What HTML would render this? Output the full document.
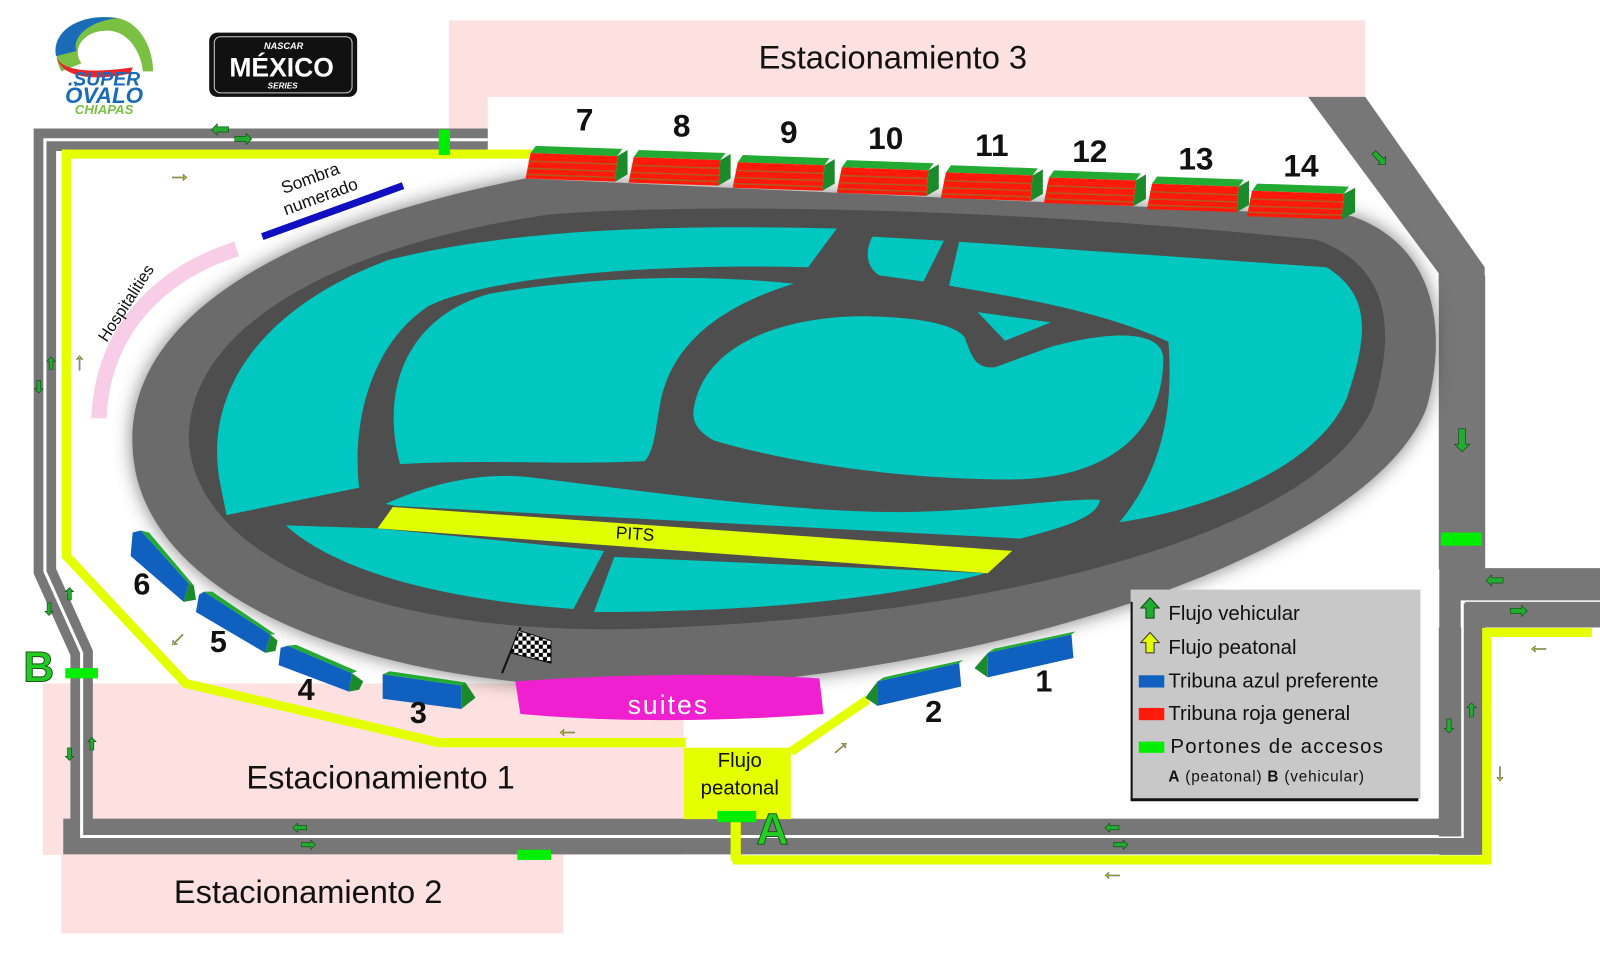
<!DOCTYPE html>
<html><head><meta charset="utf-8"><style>
html,body{margin:0;padding:0;background:#fff;}
svg{display:block;}
text{font-family:"Liberation Sans",sans-serif;}
</style></head><body>
<svg width="1600" height="965" viewBox="0 0 1568 946" preserveAspectRatio="none" xmlns="http://www.w3.org/2000/svg">
<defs>
<filter id="blur" x="-10%" y="-10%" width="120%" height="120%"><feGaussianBlur stdDeviation="9"/></filter>
<pattern id="chk" width="8" height="8" patternUnits="userSpaceOnUse"><rect width="8" height="8" fill="#fff"/><rect width="4" height="4" fill="#000"/><rect x="4" y="4" width="4" height="4" fill="#000"/></pattern>
</defs>
<rect width="1568" height="946" fill="#fff"/>
<!-- parking areas -->
<rect x="440" y="20" width="898" height="75" fill="#fde0e0"/>
<rect x="440" y="20" width="38" height="110" fill="#fde0e0"/>
<rect x="42" y="670" width="628" height="168" fill="#fde0e0"/>
<rect x="60" y="838" width="492" height="77" fill="#fde0e0"/>
<text x="875" y="67" font-size="32" text-anchor="middle" fill="#111">Estacionamiento 3</text>
<text x="373" y="773" font-size="32" text-anchor="middle" fill="#111">Estacionamiento 1</text>
<text x="302" y="885" font-size="32" text-anchor="middle" fill="#111">Estacionamiento 2</text>

<!-- roads -->
<g fill="none" stroke="#777" stroke-linejoin="miter">
<path d="M478,137 L44,137 L44,560 L80,640 L80,805" stroke-width="22"/>
<path d="M62,820 L1433,820" stroke-width="35"/>
<path d="M1433,838 L1433,270" stroke-width="45"/>
<path d="M1433,586 L1568,586" stroke-width="58"/>
</g>
<polygon points="1282,95 1338,95 1455,262 1455,280 1410,280 1410,268" fill="#777"/>
<g fill="none" stroke="#fff" stroke-width="3">
<path d="M478,137 L44,137 L44,560 L80,640 L80,820 L1433,820 L1433,590 L1568,590"/>
</g>
<rect x="1410" y="270" width="45" height="288" fill="#777"/>
<rect x="1410" y="615" width="22" height="205" fill="#777"/>
<rect x="1436" y="590" width="132" height="25" fill="#777"/>
<!-- yellow pedestrian paths -->
<g fill="none" stroke="#e4ff00" stroke-width="9">
<path d="M522,151 L65,151 L65,545 L182,670 L430,728 L672,728"/>
<path d="M775,737 L850,686"/>
<path d="M718,843 L1457,843 L1457,620 L1560,620"/>
</g>
<rect x="670" y="733" width="105" height="70" fill="#e4ff00"/>
<text x="725" y="752" font-size="20" text-anchor="middle" fill="#111">Flujo</text>
<text x="725" y="779" font-size="20" text-anchor="middle" fill="#111">peatonal</text>
<!-- gates -->
<g fill="#00ee00">
<rect x="430" y="127" width="11" height="25"/>
<rect x="1412" y="522" width="40" height="13"/>
<rect x="64" y="655" width="32" height="10"/>
<rect x="507" y="833" width="33" height="10"/>
<rect x="703" y="795" width="38" height="11"/>
</g>
<rect x="716" y="806" width="10" height="38" fill="#e4ff00"/>
<text x="757" y="828" font-size="44" font-weight="bold" text-anchor="middle" fill="#22cc22" stroke="#1a5a1a" stroke-width="1">A</text>
<text x="38" y="668" font-size="42" font-weight="bold" text-anchor="middle" fill="#22cc22" stroke="#1a5a1a" stroke-width="1">B</text>

<!-- track -->
<path d="M130,440 C122,320 260,225 515,175 L1325,212 C1405,240 1420,320 1398,400 C1350,525 1050,642 700,672 C400,690 138,600 130,440 Z" fill="#444" filter="url(#blur)" opacity="0.7"/>
<path d="M130,440 C122,320 260,225 515,175 L1325,212 C1405,240 1420,320 1398,400 C1350,525 1050,642 700,672 C400,690 138,600 130,440 Z" fill="#6b6b6b"/>
<path d="M185,430 C185,320 330,240 540,210 C700,198 1000,205 1290,235 C1360,260 1370,320 1345,400 C1290,520 1000,600 660,615 C380,630 190,550 185,430 Z" fill="#4e4e4e"/>
<g fill="#00c8c0">
<path d="M215,470 C200,380 260,300 380,255 C500,225 650,220 820,224 L792,262 C650,258 480,270 420,300 C360,340 345,420 352,478 L222,505 Z"/>
<path d="M940,237 L1300,262 C1345,290 1340,330 1320,390 C1290,460 1180,500 1097,512 C1140,460 1150,400 1145,335 C1080,305 1000,292 930,280 Z"/>
<path d="M855,232 L925,236 L905,276 L862,270 C848,262 848,245 855,232 Z"/>
<path d="M392,455 C372,380 400,310 480,288 C570,272 680,268 778,278 C700,302 660,340 648,390 C642,420 642,440 632,452 C560,456 470,450 392,455 Z"/>
<path d="M680,400 C690,340 760,312 840,310 C900,310 935,318 945,330 C952,348 955,362 975,360 L1030,340 C1085,325 1140,322 1140,352 C1140,420 1090,470 990,470 C870,470 760,450 700,432 C682,422 678,412 680,400 Z"/>
<path d="M958,306 L1030,316 L985,334 Z"/>
<path d="M378,494 C430,470 480,463 520,468 C650,484 780,502 880,502 C960,502 1040,488 1078,490 C1075,506 1050,515 1000,528 L388,496 Z"/>
<path d="M280,515 L370,518 L592,540 L562,597 C430,587 330,560 280,515 Z"/>
<path d="M602,546 L966,562 C880,585 750,600 582,600 Z"/>
</g>
<path d="M385,497 L992,540 L968,562 L370,518 Z" fill="#e0ff00"/>
<text x="622" y="529" font-size="17" text-anchor="middle" fill="#111" transform="rotate(4 622 529)">PITS</text>

<!-- checkered flag -->
<line x1="492" y1="660" x2="510" y2="615" stroke="#111" stroke-width="2"/>
<path d="M508,618 L540,628 L540,650 L500,640 Z" fill="url(#chk)" stroke="#111" stroke-width="1"/>

<!-- suites -->
<path d="M505,668 C620,660 720,660 803,665 L807,700 C700,708 600,708 510,700 Z" fill="#f020d0"/>
<text x="655" y="700" font-size="26" text-anchor="middle" fill="#fff" letter-spacing="2">suites</text>

<!-- red stands -->
<g id="stands">
<g transform="translate(515,143)"><polygon points="10,0 95,3 90,10 5,7" fill="#22aa33"/><polygon points="5,7 90,10 88,35 0,32" fill="#ff1a0a"/><polygon points="90,10 100,4 100,28 88,35" fill="#1a8a2a"/><g stroke="#b05a20" stroke-width="1.5"><line x1="3" y1="15" x2="89" y2="18"/><line x1="2" y1="22" x2="89" y2="25"/><line x1="1" y1="28" x2="88" y2="31"/></g></g>
<g transform="translate(616,147)"><polygon points="10,0 95,3 90,10 5,7" fill="#22aa33"/><polygon points="5,7 90,10 88,35 0,32" fill="#ff1a0a"/><polygon points="90,10 100,4 100,28 88,35" fill="#1a8a2a"/><g stroke="#b05a20" stroke-width="1.5"><line x1="3" y1="15" x2="89" y2="18"/><line x1="2" y1="22" x2="89" y2="25"/><line x1="1" y1="28" x2="88" y2="31"/></g></g>
<g transform="translate(718,152)"><polygon points="10,0 95,3 90,10 5,7" fill="#22aa33"/><polygon points="5,7 90,10 88,35 0,32" fill="#ff1a0a"/><polygon points="90,10 100,4 100,28 88,35" fill="#1a8a2a"/><g stroke="#b05a20" stroke-width="1.5"><line x1="3" y1="15" x2="89" y2="18"/><line x1="2" y1="22" x2="89" y2="25"/><line x1="1" y1="28" x2="88" y2="31"/></g></g>
<g transform="translate(820,157)"><polygon points="10,0 95,3 90,10 5,7" fill="#22aa33"/><polygon points="5,7 90,10 88,35 0,32" fill="#ff1a0a"/><polygon points="90,10 100,4 100,28 88,35" fill="#1a8a2a"/><g stroke="#b05a20" stroke-width="1.5"><line x1="3" y1="15" x2="89" y2="18"/><line x1="2" y1="22" x2="89" y2="25"/><line x1="1" y1="28" x2="88" y2="31"/></g></g>
<g transform="translate(922,162)"><polygon points="10,0 95,3 90,10 5,7" fill="#22aa33"/><polygon points="5,7 90,10 88,35 0,32" fill="#ff1a0a"/><polygon points="90,10 100,4 100,28 88,35" fill="#1a8a2a"/><g stroke="#b05a20" stroke-width="1.5"><line x1="3" y1="15" x2="89" y2="18"/><line x1="2" y1="22" x2="89" y2="25"/><line x1="1" y1="28" x2="88" y2="31"/></g></g>
<g transform="translate(1023,167)"><polygon points="10,0 95,3 90,10 5,7" fill="#22aa33"/><polygon points="5,7 90,10 88,35 0,32" fill="#ff1a0a"/><polygon points="90,10 100,4 100,28 88,35" fill="#1a8a2a"/><g stroke="#b05a20" stroke-width="1.5"><line x1="3" y1="15" x2="89" y2="18"/><line x1="2" y1="22" x2="89" y2="25"/><line x1="1" y1="28" x2="88" y2="31"/></g></g>
<g transform="translate(1124,173)"><polygon points="10,0 95,3 90,10 5,7" fill="#22aa33"/><polygon points="5,7 90,10 88,35 0,32" fill="#ff1a0a"/><polygon points="90,10 100,4 100,28 88,35" fill="#1a8a2a"/><g stroke="#b05a20" stroke-width="1.5"><line x1="3" y1="15" x2="89" y2="18"/><line x1="2" y1="22" x2="89" y2="25"/><line x1="1" y1="28" x2="88" y2="31"/></g></g>
<g transform="translate(1222,180)"><polygon points="10,0 100,3 95,10 5,7" fill="#22aa33"/><polygon points="5,7 95,10 93,35 0,32" fill="#ff1a0a"/><polygon points="95,10 106,4 106,28 93,35" fill="#1a8a2a"/><g stroke="#b05a20" stroke-width="1.5"><line x1="3" y1="15" x2="94" y2="18"/><line x1="2" y1="22" x2="94" y2="25"/><line x1="1" y1="28" x2="93" y2="31"/></g></g>
</g>
<g font-size="31" font-weight="bold" text-anchor="middle" fill="#111">
<text x="573" y="128">7</text><text x="668" y="134">8</text><text x="773" y="140">9</text><text x="868" y="146">10</text><text x="972" y="153">11</text><text x="1068" y="159">12</text><text x="1172" y="166">13</text><text x="1275" y="173">14</text>
</g>

<!-- blue stands -->
<g>
<polygon points="130,522 138,520 185,572 180,590 128,545" fill="#1060c0"/><polygon points="138,520 146,522 190,574 185,572" fill="#22aa33"/><polygon points="180,590 185,572 190,574 192,588" fill="#1a8a2a"/>
<polygon points="195,583 200,580 265,622 260,640 192,600" fill="#1060c0"/><polygon points="200,580 208,580 270,622 265,622" fill="#22aa33"/><polygon points="260,640 265,622 272,628 270,638" fill="#1a8a2a"/>
<polygon points="275,635 282,633 345,660 342,678 273,652" fill="#1060c0"/><polygon points="282,633 290,632 350,658 345,660" fill="#22aa33"/><polygon points="342,678 345,660 356,668 352,676" fill="#1a8a2a"/>
<polygon points="375,661 452,672 452,695 375,685" fill="#1060c0"/><polygon points="375,661 382,658 456,669 452,672" fill="#22aa33"/><polygon points="452,672 456,669 466,684 452,695" fill="#1a8a2a"/>
<polygon points="860,668 940,650 942,673 860,692" fill="#1060c0"/><polygon points="860,668 940,650 944,647 866,664" fill="#22aa33"/><polygon points="860,668 860,692 848,684" fill="#1a8a2a"/>
<polygon points="968,640 1050,622 1052,645 968,664" fill="#1060c0"/><polygon points="968,640 1050,622 1054,619 974,636" fill="#22aa33"/><polygon points="968,640 968,664 955,655" fill="#1a8a2a"/>
</g>
<g font-size="30" font-weight="bold" text-anchor="middle" fill="#111">
<text x="139" y="583">6</text><text x="214" y="639">5</text><text x="300" y="686">4</text><text x="410" y="709">3</text><text x="915" y="708">2</text><text x="1023" y="678">1</text>
</g>

<!-- sombra / hospitalities -->
<line x1="257" y1="232" x2="395" y2="182" stroke="#1010c0" stroke-width="7"/>
<text x="306" y="180" font-size="17" text-anchor="middle" fill="#111" transform="rotate(-20 306 180)">Sombra</text>
<text x="316" y="198" font-size="17" text-anchor="middle" fill="#111" transform="rotate(-20 316 198)">numerado</text>
<path d="M97,410 C100,330 150,270 232,244" fill="none" stroke="#f8cde8" stroke-width="15"/>
<text x="128" y="300" font-size="16" text-anchor="middle" fill="#111" transform="rotate(-57 128 300)">Hospitalities</text>

<!-- legend -->
<rect x="1108" y="578" width="284" height="205" fill="#c8c8c8"/>
<line x1="1109" y1="590" x2="1109" y2="785" stroke="#111" stroke-width="2"/>
<line x1="1108" y1="784" x2="1390" y2="784" stroke="#111" stroke-width="3"/>
<polygon points="1127,586 1136,596 1131,596 1131,606 1123,606 1123,596 1118,596" fill="#22aa33" stroke="#114411" stroke-width="1"/>
<polygon points="1127,620 1136,630 1131,630 1131,640 1123,640 1123,630 1118,630" fill="#e4ff00" stroke="#333" stroke-width="1"/>
<rect x="1116" y="662" width="25" height="12" fill="#1060c0"/>
<rect x="1116" y="694" width="25" height="12" fill="#ff1a0a"/>
<rect x="1116" y="727" width="25" height="11" fill="#00ee00"/>
<g font-size="20" fill="#111">
<text x="1145" y="608">Flujo vehicular</text>
<text x="1145" y="641">Flujo peatonal</text>
<text x="1145" y="674">Tribuna azul preferente</text>
<text x="1145" y="706">Tribuna roja general</text>
<text x="1147" y="738" letter-spacing="1.2">Portones de accesos</text>
</g>
<text x="1145" y="766" font-size="15" fill="#111" letter-spacing="0.8"><tspan font-weight="bold">A</tspan> (peatonal) <tspan font-weight="bold">B</tspan> (vehicular)</text>

<!-- arrows -->
<g font-size="22" fill="#22aa33" stroke="#114411" stroke-width="0.6" text-anchor="middle">
<text x="216" y="134">⬅</text><text x="238" y="143">➡</text>
<text x="1352" y="162" transform="rotate(45 1352 155)">➡</text>
<text x="1433" y="442" font-size="30">⬇</text>
<text x="1465" y="576">⬅</text><text x="1488" y="606">➡</text>
<text x="1420" y="718" font-size="18">⬇</text><text x="1442" y="703" font-size="18">⬆</text>
<text x="38" y="385" font-size="16">⬇</text><text x="50" y="362" font-size="16">⬆</text>
<text x="48" y="603" font-size="16">⬇</text><text x="68" y="588" font-size="16">⬆</text>
<text x="68" y="745" font-size="16">⬇</text><text x="90" y="735" font-size="16">⬆</text>
<text x="294" y="817" font-size="18">⬅</text><text x="302" y="834" font-size="18">➡</text>
<text x="1090" y="817" font-size="18">⬅</text><text x="1098" y="834" font-size="18">➡</text>
</g>
<g font-size="24" fill="#c8dd00" stroke="#555" stroke-width="0.5" text-anchor="middle">
<text x="176" y="178">→</text>
<text x="78" y="362">↑</text>
<text x="172" y="632" transform="rotate(-45 172 625)">←</text>
<text x="556" y="722">←</text>
<text x="822" y="738" transform="rotate(-40 822 731)">→</text>
<text x="1090" y="862">←</text>
<text x="1508" y="640">←</text>
<text x="1470" y="765">↓</text>
</g>

<!-- logos -->
<path d="M60,70 C45,40 70,15 110,17 C135,18 150,45 150,70 L140,70 C138,50 125,30 105,30 C80,30 70,50 80,62 Z" fill="#7ac143"/>
<path d="M55,55 C50,30 80,12 115,18 C90,20 70,35 75,50 Z" fill="#1a6bb8"/>
<path d="M55,55 C60,70 90,72 130,66 L128,72 C90,80 60,76 55,55 Z" fill="#e8262b"/>
<text x="102" y="84" font-size="19" font-weight="bold" font-style="italic" fill="#1a6bb8" text-anchor="middle">.SUPER</text>
<text x="102" y="101" font-size="22" font-weight="bold" font-style="italic" fill="#1a6bb8" text-anchor="middle">ÓVALO</text>
<text x="102" y="112" font-size="13" font-weight="bold" font-style="italic" fill="#7ac143" text-anchor="middle">CHIAPAS</text>
<rect x="205" y="32" width="145" height="63" rx="8" fill="#111"/>
<rect x="210" y="36" width="135" height="55" rx="6" fill="none" stroke="#ccc" stroke-width="1"/>
<text x="278" y="48" font-size="9" font-weight="bold" font-style="italic" fill="#fff" text-anchor="middle">NASCAR</text>
<text x="276" y="75" font-size="26" font-weight="bold" fill="#fff" text-anchor="middle">MÉXICO</text>
<text x="277" y="87" font-size="8" font-weight="bold" font-style="italic" fill="#fff" text-anchor="middle">SERIES</text>
</svg>
</body></html>
